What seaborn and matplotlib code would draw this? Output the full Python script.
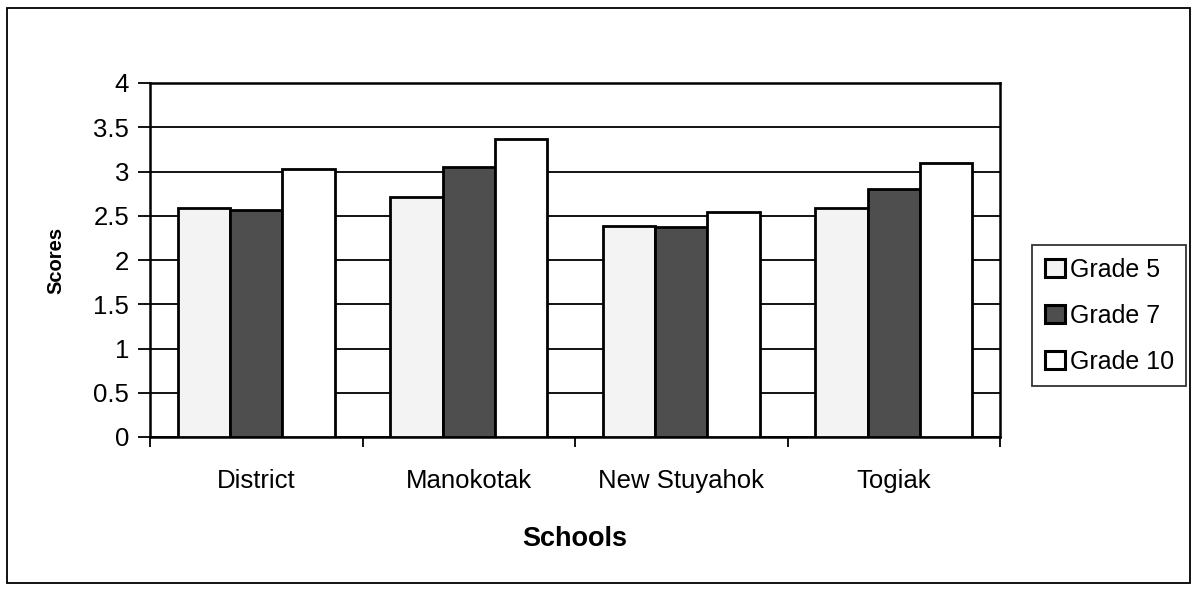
import pandas as pd
import numpy as np
import matplotlib.pyplot as plt
import seaborn as sns
from matplotlib.patches import Patch, Rectangle

# Data
schools = ['District', 'Manokotak', 'New Stuyahok', 'Togiak']
grades = ['Grade 5', 'Grade 7', 'Grade 10']
grade5 = [2.59, 2.71, 2.38, 2.59]
grade7 = [2.56, 3.05, 2.37, 2.80]
grade10 = [3.03, 3.37, 2.54, 3.10]

df = pd.DataFrame({
    'school': schools * 3,
    'grade': [g for g in grades for _ in schools],
    'score': grade5 + grade7 + grade10,
})

colors = {'Grade 5': '#f3f3f3', 'Grade 7': '#4e4e4e', 'Grade 10': '#ffffff'}

sns.set_style('white', {'text.color': 'black', 'axes.labelcolor': 'black',
                        'xtick.color': 'black', 'ytick.color': 'black'})
plt.rcParams['font.family'] = ['Liberation Sans', 'DejaVu Sans']

fig = plt.figure(figsize=(12.01, 5.93), dpi=100)
ax = fig.add_axes([150 / 1201, 1 - 437 / 593, 850 / 1201, 354 / 593])

sns.barplot(data=df, x='school', y='score', hue='grade', order=schools,
            hue_order=grades, palette=colors, width=0.74, saturation=1,
            edgecolor='black', linewidth=2, legend=False, ax=ax, zorder=3)

ax.set_ylim(0, 4)
ax.set_xlim(-0.5, len(schools) - 0.5)
ax.set_yticks(np.arange(0, 4.01, 0.5))
ax.set_yticklabels(['0', '0.5', '1', '1.5', '2', '2.5', '3', '3.5', '4'])
ax.yaxis.grid(True, color='black', linewidth=1.3, zorder=0)
ax.set_axisbelow(True)
for s in ax.spines.values():
    s.set_color('black')
    s.set_linewidth(1.8)
    s.set_visible(True)

# category boundary ticks on x
ax.set_xticks(np.arange(-0.5, len(schools), 1), minor=True)
ax.tick_params(axis='x', which='minor', length=7, width=1.3, color='black', direction='out')
ax.tick_params(axis='x', which='major', length=0, labelsize=18.5, pad=23, labelcolor='black')
ax.tick_params(axis='y', length=9, width=1.3, color='black', direction='out', labelsize=18.5,
               pad=6, labelcolor='black')
ax.tick_params(bottom=True, left=True, which='both')

ax.set_xlabel('Schools', fontsize=19.5, fontweight='bold', labelpad=24, color='black')
ax.set_ylabel('Scores', fontsize=14.5, fontweight='bold', labelpad=20, color='black')

handles = [Patch(facecolor=colors[g], edgecolor='black', linewidth=2.2) for g in grades]
leg = fig.legend(handles, grades, loc='upper left', bbox_to_anchor=(1032 / 1201, 1 - 245 / 593),
                 fontsize=18, frameon=True, fancybox=False, handlelength=0.8, handleheight=0.7,
                 handletextpad=0.2, labelspacing=0.88, borderpad=0.5, borderaxespad=0,
                 labelcolor='black')
leg.get_frame().set_edgecolor('black')
leg.get_frame().set_linewidth(1.3)

# outer chart border
fig.patches.append(Rectangle((7 / 1201, 1 - 583 / 593), 1183 / 1201, 575 / 593,
                             transform=fig.transFigure, fill=False, edgecolor='black', linewidth=1.3))

plt.savefig('out.png', dpi=100)
